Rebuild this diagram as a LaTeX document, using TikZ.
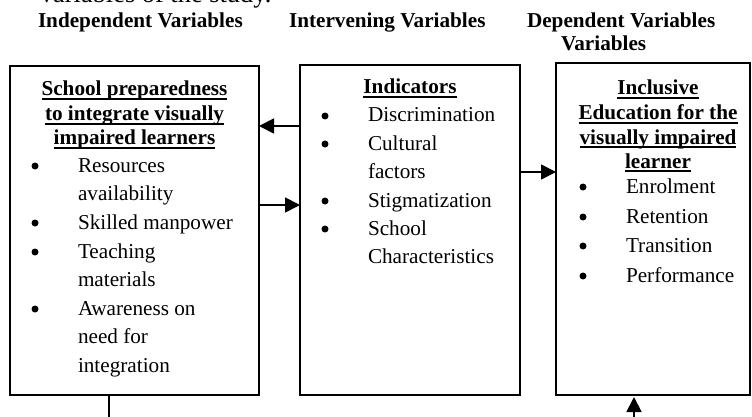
\documentclass[tikz,border=0pt]{standalone}
\usepackage{fontspec}
\setmainfont{Liberation Serif}
\usetikzlibrary{arrows.meta}
\newcommand\myul[1]{\setbox0\hbox{#1}\rlap{\rule[-3.6pt]{\wd0}{1.8pt}}\box0}
\begin{document}
\begin{tikzpicture}[x=1pt,y=-1pt,
  every node/.style={inner sep=0pt,outer sep=0pt},
  fnt/.style={font=\fontsize{21.2}{25}\selectfont},
  txt/.style={fnt,anchor=base west},
  ttl/.style={font=\fontsize{21.2}{25}\selectfont\bfseries,anchor=base},
  hdr/.style={font=\fontsize{21.2}{25}\selectfont\bfseries,anchor=base west},
  bul/.style={circle,fill=black,minimum size=7pt},
  frame/.style={draw,line width=1.8pt},
  arr/.style={line width=1.8pt,-{Triangle[length=15pt,width=15pt]}}]
\useasboundingbox (0,0) rectangle (752,417);

% cut-off line at top
\node[anchor=base west,font=\fontsize{26.4}{30}\selectfont] (top) at (40,3) {variables of the study.};

% headers
\node[hdr] (h1) at (38,28) {Independent Variables};
\node[hdr] (h2) at (289,28) {Intervening Variables};
\node[hdr] (h3) at (527,28) {Dependent Variables};
\node[hdr] (h4) at (561,51) {Variables};

% boxes
\node[frame,minimum width=249pt,minimum height=329pt] (L) at (134.5,230.5) {};
\node[frame,minimum width=220pt,minimum height=330pt] (M) at (410,230) {};
\node[frame,minimum width=194pt,minimum height=332pt] (R) at (653,229) {};

% left box content
\node[ttl] (lt1) at (134.5,96) {\myul{School preparedness}};
\node[ttl] (lt2) at (134.5,121) {\myul{to integrate visually}};
\node[ttl] (lt3) at (134.5,145) {\myul{impaired learners}};
\node[bul] (lb1) at (35,166) {};
\node[txt] (l1) at (78,172) {Resources};
\node[txt] (l2) at (78,200) {availability};
\node[bul] (lb2) at (35,223) {};
\node[txt] (l3) at (78,229) {Skilled manpower};
\node[bul] (lb3) at (35,252) {};
\node[txt] (l4) at (78,258) {Teaching};
\node[txt] (l5) at (78,286) {materials};
\node[bul] (lb4) at (35,309) {};
\node[txt] (l6) at (78,315) {Awareness on};
\node[txt] (l7) at (78,343) {need for};
\node[txt] (l8) at (78,372) {integration};

% middle box content
\node[ttl] (mt1) at (410,94) {\myul{Indicators}};
\node[bul] (mb1) at (325,116) {};
\node[txt] (m1) at (368,122) {Discrimination};
\node[bul] (mb2) at (325,144) {};
\node[txt] (m2) at (368,150) {Cultural};
\node[txt] (m3) at (368,178) {factors};
\node[bul] (mb3) at (325,201) {};
\node[txt] (m4) at (368,207) {Stigmatization};
\node[bul] (mb4) at (325,229) {};
\node[txt] (m5) at (368,235) {School};
\node[txt] (m6) at (368,263) {Characteristics};

% right box content
\node[ttl] (rt1) at (658,95) {\myul{Inclusive}};
\node[ttl] (rt2) at (658,120) {\myul{Education for the}};
\node[ttl] (rt3) at (658,144) {\myul{visually impaired}};
\node[ttl] (rt4) at (658,168) {\myul{learner}};
\node[bul] (rb1) at (583,187) {};
\node[txt] (r1) at (626,193) {Enrolment};
\node[bul] (rb2) at (583,217) {};
\node[txt] (r2) at (626,223) {Retention};
\node[bul] (rb3) at (583,246) {};
\node[txt] (r3) at (626,252) {Transition};
\node[bul] (rb4) at (583,276) {};
\node[txt] (r4) at (626,282) {Performance};

% connectors
\draw[arr] (M.west |- 0,126) -- (L.east |- 0,126);
\draw[arr] (L.east |- 0,205) -- (M.west |- 0,205);
\draw[arr] (M.east |- 0,172) -- (R.west |- 0,172);
\coordinate (b1) at (109,425);
\coordinate (b2) at (634,425);
\coordinate (b2t) at (634,397);
\draw[line width=1.8pt] (L.south -| b1) -- (b1);
\draw[arr] (b2) -- (b2t);
\end{tikzpicture}
\end{document}
